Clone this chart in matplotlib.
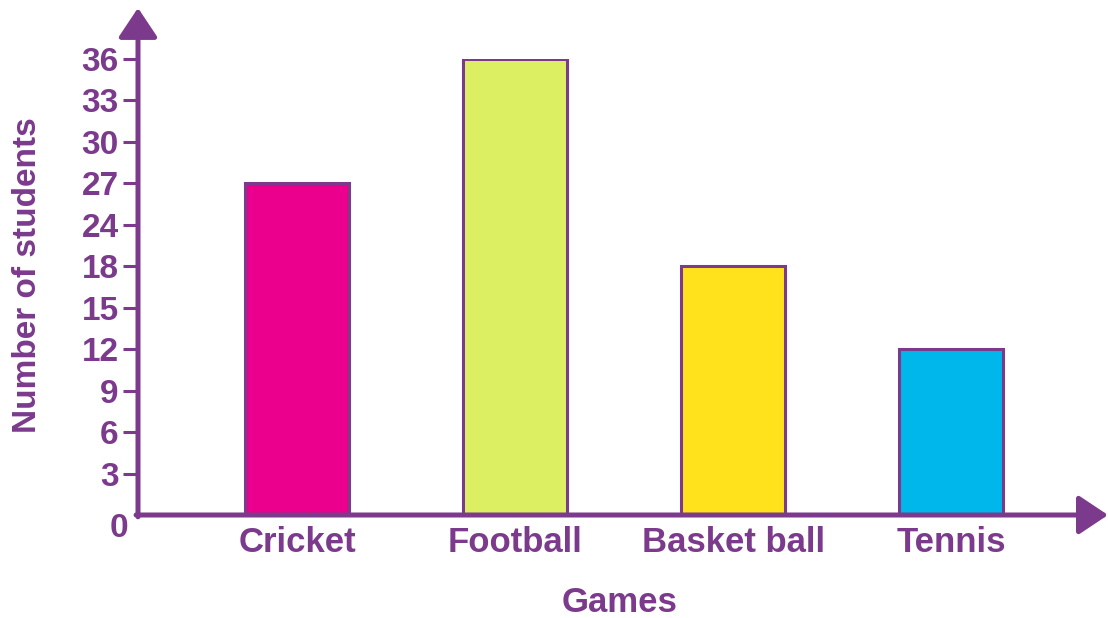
import numpy as np
import matplotlib
matplotlib.use("Agg")
import matplotlib.pyplot as plt

# data
games = ["Cricket", "Football", "Basket ball", "Tennis"]
students = [27, 36, 18, 12]
bar_colors = ["#EA008C", "#DCEF63", "#FFE11C", "#00B7EB"]
# the axis skips 21: labels are evenly spaced
tick_vals = [0, 3, 6, 9, 12, 15, 18, 24, 27, 30, 33, 36]

PURPLE = "#7B3A8C"
plt.rcParams["font.family"] = ["Liberation Sans", "DejaVu Sans"]
plt.rcParams["font.weight"] = "bold"

idx = np.arange(len(tick_vals), dtype=float)


def forward(v):
    return np.interp(v, tick_vals, idx)


def inverse(i):
    return np.interp(i, idx, tick_vals)


W, H = 1108, 618
fig = plt.figure(figsize=(W / 100, H / 100), dpi=100)
# axes box in pixels: x 138..1108, y 59..515 (from top)
ax = fig.add_axes([138 / W, 1 - 515 / H, (1108 - 138) / W, (515 - 59) / H])

ax.set_yscale("function", functions=(forward, inverse))
x = np.arange(len(games))
ax.bar(x, students, width=0.48, color=bar_colors, edgecolor=PURPLE,
       linewidth=2.2, zorder=2)

ax.set_xlim(-0.73, 3.72)
ax.set_ylim(0, 36)

ax.set_yticks(tick_vals[1:])
ax.set_yticklabels([str(v) for v in tick_vals[1:]])
ax.set_xticks(x)
ax.set_xticklabels(games)
ax.yaxis.set_minor_locator(matplotlib.ticker.NullLocator())

ax.tick_params(axis="y", direction="out", length=11, width=2.2, color=PURPLE,
               labelcolor=PURPLE, labelsize=24, pad=3)
ax.tick_params(axis="x", length=0, pad=8, labelcolor=PURPLE, labelsize=25)

for s in ["top", "right", "left", "bottom"]:
    ax.spines[s].set_visible(False)

# axis lines with arrow heads
arrow_kw = dict(arrowstyle="-|>,head_length=0.9,head_width=0.6", color=PURPLE,
                lw=3.6, shrinkA=0, shrinkB=0, mutation_scale=20)
ax.annotate("", xy=(0, 1.112), xytext=(0, -0.004), xycoords="axes fraction",
            arrowprops=arrow_kw, annotation_clip=False)
ax.annotate("", xy=(1.0, 0), xytext=(-0.002, 0), xycoords="axes fraction",
            arrowprops=arrow_kw, annotation_clip=False)

ax.annotate("0", xy=(0, 0), xycoords="axes fraction", xytext=(-14, -10),
            textcoords="offset points", ha="center", va="center",
            color=PURPLE, fontsize=24, fontweight="bold")

fig.text(620 / W, 1 - 603 / H, "Games", ha="center", va="center",
         color=PURPLE, fontsize=25, fontweight="bold")
fig.text(28 / W, 1 - 275 / H, "Number of students", ha="center", va="center",
         rotation=90, color=PURPLE, fontsize=24, fontweight="bold")

fig.savefig("out.png", dpi=100)
